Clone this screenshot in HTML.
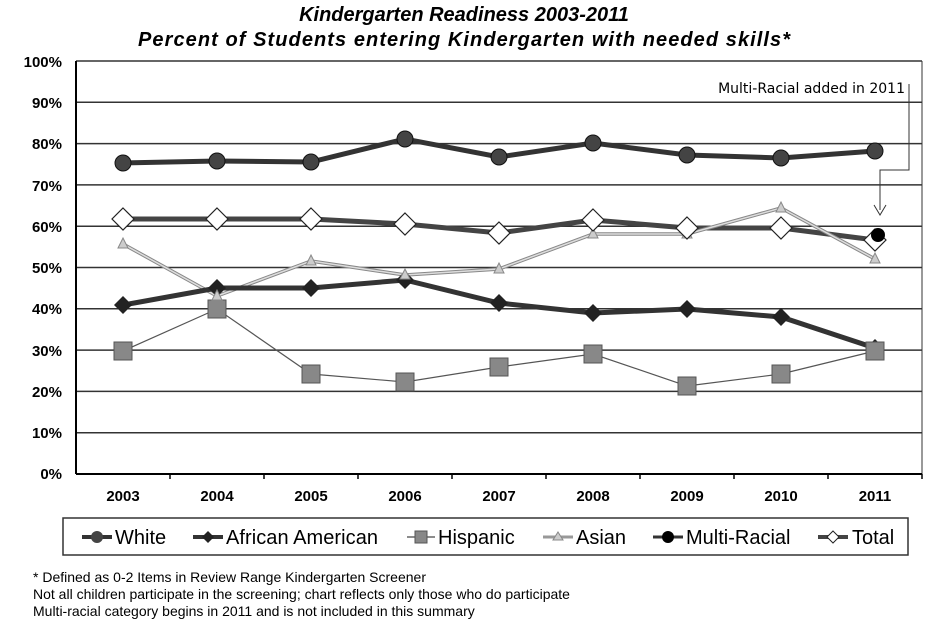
<!DOCTYPE html>
<html><head><meta charset="utf-8"><style>
body{margin:0;background:#fff;}
svg{display:block;font-family:"Liberation Sans",Arial,sans-serif;}
</style></head><body>
<svg width="934" height="621" viewBox="0 0 934 621" xmlns="http://www.w3.org/2000/svg">
<rect width="934" height="621" fill="#fff"/>
<text x="464" y="21" text-anchor="middle" font-size="20" font-weight="bold" font-style="italic">Kindergarten Readiness 2003-2011</text>
<text x="464" y="46" text-anchor="middle" font-size="20" font-weight="bold" font-style="italic" textLength="652">Percent of Students entering Kindergarten with needed skills*</text>
<g stroke="#333" stroke-width="1.5">
<line x1="76" y1="61" x2="922" y2="61"/><line x1="76" y1="102.3" x2="922" y2="102.3"/>
<line x1="76" y1="143.6" x2="922" y2="143.6"/><line x1="76" y1="184.9" x2="922" y2="184.9"/>
<line x1="76" y1="226.2" x2="922" y2="226.2"/><line x1="76" y1="267.5" x2="922" y2="267.5"/>
<line x1="76" y1="308.8" x2="922" y2="308.8"/><line x1="76" y1="350.1" x2="922" y2="350.1"/>
<line x1="76" y1="391.4" x2="922" y2="391.4"/><line x1="76" y1="432.7" x2="922" y2="432.7"/>
</g>
<line x1="922" y1="61" x2="922" y2="474" stroke="#333" stroke-width="1"/>
<line x1="76" y1="61" x2="76" y2="474" stroke="#000" stroke-width="2"/>
<line x1="76" y1="474" x2="922" y2="474" stroke="#000" stroke-width="2"/>
<g stroke="#000" stroke-width="1.5">
<line x1="170" y1="474" x2="170" y2="479"/><line x1="264" y1="474" x2="264" y2="479"/><line x1="358" y1="474" x2="358" y2="479"/><line x1="452" y1="474" x2="452" y2="479"/><line x1="546" y1="474" x2="546" y2="479"/><line x1="640" y1="474" x2="640" y2="479"/><line x1="734" y1="474" x2="734" y2="479"/><line x1="828" y1="474" x2="828" y2="479"/><line x1="922" y1="474" x2="922" y2="479"/>
</g>
<g font-size="15" font-weight="bold" text-anchor="end">
<text x="62" y="67">100%</text><text x="62" y="108">90%</text><text x="62" y="149">80%</text><text x="62" y="191">70%</text><text x="62" y="232">60%</text><text x="62" y="273">50%</text><text x="62" y="314">40%</text><text x="62" y="356">30%</text><text x="62" y="397">20%</text><text x="62" y="438">10%</text><text x="62" y="479">0%</text>
</g>
<g font-size="15" font-weight="bold" text-anchor="middle">
<text x="123" y="501">2003</text><text x="217" y="501">2004</text><text x="311" y="501">2005</text><text x="405" y="501">2006</text><text x="499" y="501">2007</text><text x="593" y="501">2008</text><text x="687" y="501">2009</text><text x="781" y="501">2010</text><text x="875" y="501">2011</text>
</g>
<polyline points="123,219 217,219 311,219 405,224 499,233 593,220 687,228 781,228 875,240" fill="none" stroke="#444" stroke-width="5"/>
<polyline points="123,244 217,296 311,261 405,275 499,269 593,234 687,234 781,208 875,259" fill="none" stroke="#888" stroke-width="3.5"/>
<polyline points="123,244 217,296 311,261 405,275 499,269 593,234 687,234 781,208 875,259" fill="none" stroke="#ddd" stroke-width="1.5"/>
<polyline points="123,351 217,309 311,374 405,382 499,367 593,354 687,386 781,374 875,351" fill="none" stroke="#555" stroke-width="1.2"/>
<polyline points="123,305 217,288 311,288 405,280 499,303 593,313 687,309 781,317 875,348" fill="none" stroke="#333" stroke-width="5"/>
<polyline points="123,163 217,161 311,162 405,139 499,157 593,143 687,155 781,158 875,151" fill="none" stroke="#333" stroke-width="5"/>
<g fill="#444" stroke="#111" stroke-width="1">
<circle cx="123" cy="163" r="8"/><circle cx="217" cy="161" r="8"/><circle cx="311" cy="162" r="8"/><circle cx="405" cy="139" r="8"/><circle cx="499" cy="157" r="8"/><circle cx="593" cy="143" r="8"/><circle cx="687" cy="155" r="8"/><circle cx="781" cy="158" r="8"/><circle cx="875" cy="151" r="8"/>
</g>
<g fill="#222">
<path d="M123,296l9,9l-9,9l-9,-9z"/><path d="M217,279l9,9l-9,9l-9,-9z"/><path d="M311,279l9,9l-9,9l-9,-9z"/><path d="M405,271l9,9l-9,9l-9,-9z"/><path d="M499,294l9,9l-9,9l-9,-9z"/><path d="M593,304l9,9l-9,9l-9,-9z"/><path d="M687,300l9,9l-9,9l-9,-9z"/><path d="M781,308l9,9l-9,9l-9,-9z"/><path d="M875,339l9,9l-9,9l-9,-9z"/>
</g>
<g fill="#888" stroke="#555" stroke-width="1">
<rect x="114" y="342" width="18" height="18"/><rect x="208" y="300" width="18" height="18"/><rect x="302" y="365" width="18" height="18"/><rect x="396" y="373" width="18" height="18"/><rect x="490" y="358" width="18" height="18"/><rect x="584" y="345" width="18" height="18"/><rect x="678" y="377" width="18" height="18"/><rect x="772" y="365" width="18" height="18"/><rect x="866" y="342" width="18" height="18"/>
</g>
<g fill="#ccc" stroke="#888" stroke-width="1">
<path d="M123,238l5,10h-10z"/><path d="M217,290l5,10h-10z"/><path d="M311,255l5,10h-10z"/><path d="M405,269l5,10h-10z"/><path d="M499,263l5,10h-10z"/><path d="M593,228l5,10h-10z"/><path d="M687,228l5,10h-10z"/><path d="M781,202l5,10h-10z"/><path d="M875,253l5,10h-10z"/>
</g>
<g fill="#fff" stroke="#222" stroke-width="1.2">
<path d="M123,208l11,11l-11,11l-11,-11z"/><path d="M217,208l11,11l-11,11l-11,-11z"/><path d="M311,208l11,11l-11,11l-11,-11z"/><path d="M405,213l11,11l-11,11l-11,-11z"/><path d="M499,222l11,11l-11,11l-11,-11z"/><path d="M593,209l11,11l-11,11l-11,-11z"/><path d="M687,217l11,11l-11,11l-11,-11z"/><path d="M781,217l11,11l-11,11l-11,-11z"/><path d="M875,229l11,11l-11,11l-11,-11z"/>
</g>
<circle cx="878" cy="235" r="7" fill="#000"/>
<text x="905" y="93" text-anchor="end" font-size="14" font-family="DejaVu Sans, sans-serif">Multi-Racial added in 2011</text>
<polyline points="909,84 909,170 880,170 880,210" fill="none" stroke="#333" stroke-width="1"/>
<path d="M874,205l6,10l6,-10" fill="none" stroke="#333" stroke-width="1"/>
<rect x="63" y="518" width="845" height="37" fill="#fff" stroke="#333" stroke-width="1.5"/>
<g font-size="20">
<line x1="82" y1="537" x2="112" y2="537" stroke="#333" stroke-width="4"/><circle cx="97" cy="537" r="6" fill="#444"/>
<text x="115" y="544">White</text>
<line x1="193" y1="537" x2="223" y2="537" stroke="#333" stroke-width="4"/><path d="M208,531l6,6l-6,6l-6,-6z" fill="#222"/>
<text x="226" y="544" textLength="152">African American</text>
<line x1="407" y1="537" x2="435" y2="537" stroke="#666" stroke-width="1.5"/><rect x="415" y="531" width="12" height="12" fill="#888" stroke="#555"/>
<text x="438" y="544">Hispanic</text>
<line x1="543" y1="537" x2="573" y2="537" stroke="#999" stroke-width="3"/><path d="M558,532l5,8h-10z" fill="#ccc" stroke="#888"/>
<text x="576" y="544">Asian</text>
<line x1="653" y1="537" x2="683" y2="537" stroke="#333" stroke-width="3"/><circle cx="668" cy="537" r="6" fill="#000"/>
<text x="686" y="544">Multi-Racial</text>
<line x1="818" y1="537" x2="848" y2="537" stroke="#444" stroke-width="4"/><path d="M833,531l6,6l-6,6l-6,-6z" fill="#fff" stroke="#222"/>
<text x="852" y="544">Total</text>
</g>
<g font-size="14">
<text x="33" y="582">* Defined as 0-2 Items in Review Range Kindergarten Screener</text>
<text x="33" y="599">Not all children participate in the screening; chart reflects only those who do participate</text>
<text x="33" y="616">Multi-racial category begins in 2011 and is not included in this summary</text>
</g>
</svg>
</body></html>
